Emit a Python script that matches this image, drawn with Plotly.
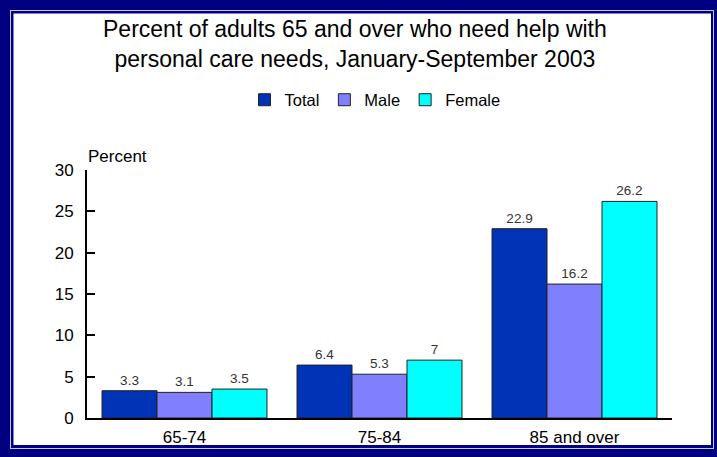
import plotly.graph_objects as go

categories = ["65-74", "75-84", "85 and over"]
total = [3.3, 6.4, 22.9]
male = [3.1, 5.3, 16.2]
female = [3.5, 7.0, 26.2]
series_names = ["Total", "Male", "Female"]
y_ticks = [0, 5, 10, 15, 20, 25, 30]

W, H = 717, 457
ML, MR, MT, MB = 87, 45, 170, 39
PW, PH = W - ML - MR, H - MT - MB

def px_x(p):
    return (p - ML) / PW

def px_y(p):
    return (H - MB - p) / PH

colors = ["#0033B5", "#8080FF", "#00FFFF"]
fig = go.Figure()
for name, vals, c in zip(series_names, [total, male, female], colors):
    fig.add_trace(go.Bar(
        x=categories, y=vals, name=name,
        marker=dict(color=c, line=dict(color="#222222", width=1)),
        text=[f"{v:g}" for v in vals], textposition="outside",
        textfont=dict(size=13.5, color="#333333", family="Liberation Sans, Arial"),
        cliponaxis=False,
    ))

shapes = []
def rect(x0, y0, x1, y1, color):
    shapes.append(dict(type="rect", xref="paper", yref="paper",
                       x0=px_x(x0), x1=px_x(x1), y0=px_y(y1), y1=px_y(y0),
                       fillcolor=color, line=dict(width=0), layer="below"))

rect(0, 0, W, H, "#000080")
rect(10, 10, 714, 449, "#C8C8E6")
rect(11, 11, 713, 448, "#000080")
rect(13.5, 13.5, 711, 445, "#FFFFFF")

fig.update_layout(
    width=W, height=H,
    margin=dict(l=ML, r=MR, t=MT, b=MB, autoexpand=False),
    paper_bgcolor="white", plot_bgcolor="rgba(0,0,0,0)",
    font=dict(family="Liberation Sans, Arial", color="#000000"),
    barmode="group", bargap=0.154, bargroupgap=0,
    shapes=shapes,
    showlegend=True,
    title=dict(text="Percent of adults 65 and over who need help with<br>personal care needs, January-September 2003",
               x=0.495, xref="container", xanchor="center",
               y=1 - 37 / H, yref="container", yanchor="middle",
               font=dict(size=23, color="#000000")),
    legend=dict(orientation="h", x=px_x(375), xanchor="center",
                y=px_y(100), yanchor="middle",
                font=dict(size=16.5), itemwidth=30, bgcolor="rgba(0,0,0,0)",
                traceorder="normal"),
    annotations=[dict(text="Percent", xref="paper", yref="paper",
                      x=px_x(86), y=px_y(157), xanchor="left", yanchor="middle",
                      showarrow=False, font=dict(size=17))],
)
fig.update_yaxes(range=[0, 30], tickvals=y_ticks, ticks="inside", ticklen=8,
                 tickwidth=1.5, tickcolor="black", showline=True, linecolor="black",
                 linewidth=2, showgrid=False, zeroline=False, automargin=False,
                 tickfont=dict(size=17), ticklabelstandoff=8)
fig.update_xaxes(showline=True, linecolor="black", linewidth=2, ticks="",
                 showgrid=False, tickfont=dict(size=17), ticklabelstandoff=3,
                 automargin=False)

fig.write_html("out.html")
